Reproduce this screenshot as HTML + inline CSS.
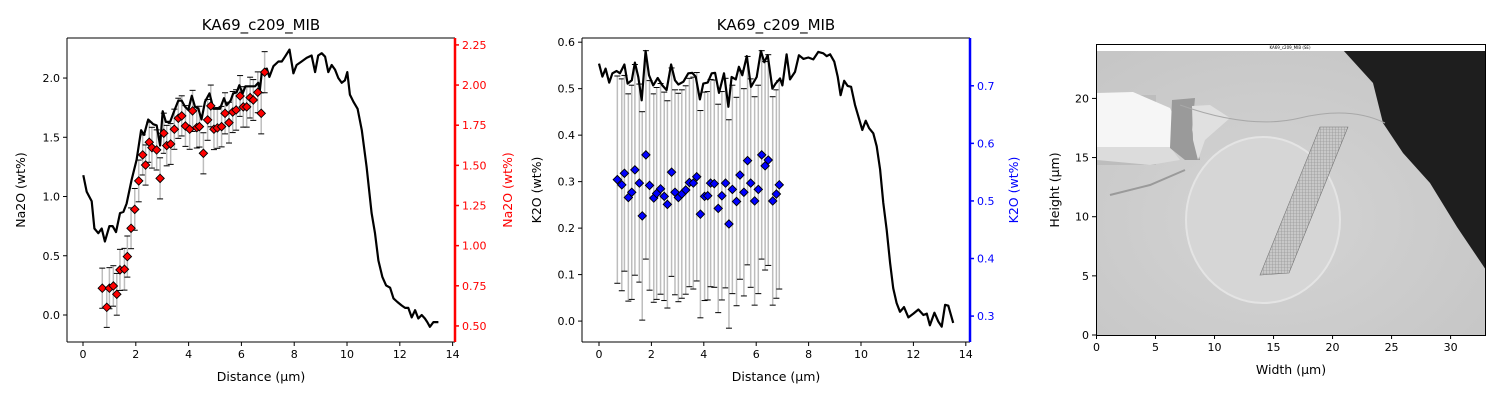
<!DOCTYPE html>
<html><head><meta charset="utf-8">
<style>
html,body{margin:0;padding:0;background:#fff;}
svg{display:block;font-family:"DejaVu Sans","Liberation Sans",sans-serif;}
</style></head>
<body>
<svg id="fig" width="1500" height="400" viewBox="0 0 1500 400" xmlns="http://www.w3.org/2000/svg">
<rect width="1500" height="400" fill="#fff"/>
<g id="p1"></g>
<g id="p2"></g>
<g id="p3">
  <defs>
    <clipPath id="imgclip"><rect x="1096" y="44" width="389" height="291"/></clipPath>
    <radialGradient id="bgGrad" cx="0.45" cy="0.6" r="0.7">
      <stop offset="0" stop-color="#d4d4d4"/><stop offset="1" stop-color="#c6c6c6"/>
    </radialGradient>
    <pattern id="hatch" width="3" height="3" patternUnits="userSpaceOnUse">
      <rect width="3" height="3" fill="#c8c8c8"/><path d="M0 0H3M0 0V3" stroke="#888" stroke-width="0.6"/>
    </pattern>
  </defs>
  <g clip-path="url(#imgclip)">
    <rect x="1096" y="44" width="389" height="291" fill="url(#bgGrad)"/>
    <rect x="1096" y="95" width="60" height="70" fill="#bdbdbd"/>
    <polygon points="1343,50 1373,83 1383,123 1403,153 1430,183 1457,227 1486,270 1486,50" fill="#1e1e1e"/>
    <polygon points="1097,93 1133,92 1170,108 1177,123 1170,147 1097,147" fill="#f6f6f6"/>
    <polygon points="1097,147 1170,147 1180,160 1150,165 1097,160" fill="#dcdcdc"/>
    <polygon points="1172,100 1195,98 1192,130 1200,160 1185,160 1170,148" fill="#9a9a9a"/>
    <polygon points="1192,106 1210,105 1230,118 1205,140 1198,160 1193,140" fill="#e0e0e0"/>
    <path d="M1110,195 L1150,185 L1185,170" stroke="#9a9a9a" stroke-width="2" fill="none"/>
    <ellipse cx="1263" cy="220" rx="77" ry="83" fill="#d6d6d6" stroke="#e4e4e4" stroke-width="2"/>
    <path d="M1180,105 Q1250,130 1300,118 T1385,123" stroke="#a8a8a8" stroke-width="1" fill="none"/>
    <polygon points="1320,127 1348,127 1289,273 1260,275" fill="url(#hatch)" stroke="#777" stroke-width="0.6"/>
  </g>
  <rect x="1096" y="44" width="389" height="7" fill="#fff"/>
  <text x="1290" y="49" font-size="4" text-anchor="middle">KA69_c209_MIB (SE)</text>
  <rect x="1096.5" y="44.5" width="389" height="291" fill="none" stroke="#000" stroke-width="1"/>
</g>
</svg>
<script>
// ---------- Panel 1 data ----------
const naLineX = [0.01,0.14,0.33,0.43,0.58,0.71,0.83,1.00,1.12,1.25,1.40,1.53,1.65,1.84,2.03,2.20,2.31,2.47,2.66,2.79,2.92,3.02,3.14,3.30,3.45,3.61,3.74,3.86,3.99,4.12,4.24,4.37,4.49,4.62,4.79,4.94,5.13,5.19,5.34,5.44,5.59,5.69,5.82,5.92,6.05,6.15,6.26,6.39,6.52,6.64,6.70,6.77,6.86,6.96,7.06,7.21,7.40,7.53,7.65,7.82,7.97,8.09,8.28,8.47,8.66,8.79,8.91,9.04,9.17,9.29,9.42,9.55,9.67,9.80,9.92,10.01,10.11,10.24,10.40,10.56,10.74,10.93,11.06,11.19,11.34,11.48,11.63,11.76,11.91,12.07,12.20,12.32,12.45,12.58,12.70,12.83,12.95,13.04,13.14,13.27,13.46];
const naLineY = [1.18,1.04,0.96,0.73,0.69,0.73,0.62,0.75,0.75,0.70,0.86,0.87,0.94,1.14,1.31,1.56,1.52,1.65,1.61,1.60,1.43,1.72,1.63,1.63,1.72,1.81,1.81,1.76,1.73,1.85,1.76,1.74,1.65,1.80,1.87,1.74,1.74,1.74,1.83,1.77,1.81,1.87,1.88,1.94,1.87,1.93,1.93,1.93,1.93,1.96,1.90,2.04,2.07,2.08,2.01,2.10,2.14,2.14,2.18,2.24,2.04,2.11,2.14,2.17,2.19,2.05,2.19,2.21,2.18,2.05,2.11,2.07,2.00,1.96,1.98,2.05,1.86,1.80,1.74,1.56,1.25,0.86,0.69,0.46,0.32,0.25,0.23,0.14,0.11,0.08,0.06,0.06,-0.02,0.04,-0.03,0.00,-0.03,-0.06,-0.10,-0.06,-0.06];
const naPtX = [0.73,0.90,1.00,1.15,1.28,1.40,1.57,1.68,1.82,1.96,2.11,2.26,2.37,2.51,2.61,2.79,2.92,3.06,3.17,3.32,3.46,3.61,3.74,3.88,4.04,4.15,4.31,4.41,4.56,4.72,4.84,4.96,5.09,5.25,5.38,5.53,5.67,5.80,5.95,6.07,6.20,6.33,6.45,6.62,6.75,6.88];
const naPtY = [0.735,0.616,0.735,0.749,0.697,0.849,0.853,0.932,1.108,1.226,1.403,1.565,1.502,1.644,1.610,1.596,1.419,1.700,1.623,1.633,1.725,1.793,1.808,1.745,1.725,1.839,1.735,1.741,1.575,1.783,1.870,1.725,1.733,1.741,1.824,1.766,1.832,1.845,1.932,1.864,1.864,1.922,1.907,1.955,1.824,2.080];
const naPtErr = [0.125,0.125,0.128,0.126,0.13,0.128,0.13,0.128,0.127,0.13,0.13,0.125,0.125,0.125,0.127,0.125,0.128,0.125,0.126,0.127,0.125,0.125,0.125,0.127,0.125,0.128,0.127,0.127,0.128,0.127,0.13,0.127,0.127,0.126,0.128,0.127,0.128,0.126,0.127,0.126,0.126,0.127,0.127,0.127,0.128,0.128];
const naLeftTicks = [0.0,0.5,1.0,1.5,2.0];
const naRightTicks = [0.50,0.75,1.00,1.25,1.50,1.75,2.00,2.25];
// ---------- Panel 2 data ----------
const kLineX = [0.00,0.13,0.25,0.39,0.51,0.67,0.80,0.97,1.09,1.25,1.37,1.50,1.63,1.78,1.91,2.07,2.24,2.42,2.58,2.75,2.90,3.03,3.22,3.41,3.56,3.69,3.85,3.98,4.15,4.30,4.43,4.58,4.77,4.94,5.06,5.22,5.34,5.47,5.64,5.80,6.02,6.18,6.31,6.44,6.62,6.74,6.91,7.00,7.16,7.29,7.48,7.63,7.80,7.99,8.18,8.37,8.56,8.69,8.82,8.98,9.11,9.22,9.36,9.49,9.62,9.77,9.90,10.05,10.18,10.31,10.47,10.60,10.73,10.85,10.98,11.11,11.23,11.36,11.49,11.64,11.81,12.00,12.19,12.38,12.51,12.63,12.80,12.95,13.08,13.21,13.33,13.52];
const kLineY = [0.554,0.526,0.543,0.513,0.533,0.538,0.533,0.552,0.511,0.518,0.556,0.525,0.475,0.581,0.529,0.507,0.523,0.507,0.497,0.552,0.518,0.509,0.515,0.533,0.534,0.526,0.477,0.511,0.513,0.533,0.534,0.491,0.533,0.461,0.525,0.520,0.547,0.529,0.570,0.504,0.525,0.581,0.557,0.572,0.500,0.511,0.522,0.507,0.574,0.520,0.536,0.572,0.564,0.567,0.563,0.579,0.576,0.570,0.574,0.558,0.526,0.486,0.517,0.506,0.504,0.465,0.440,0.411,0.431,0.415,0.404,0.376,0.326,0.254,0.196,0.125,0.071,0.039,0.020,0.030,0.008,0.016,0.025,0.013,0.016,-0.009,0.018,-0.001,-0.012,0.035,0.033,-0.004];
const kPtX = [0.70,0.87,0.97,1.12,1.25,1.37,1.54,1.65,1.79,1.93,2.09,2.20,2.35,2.49,2.61,2.77,2.90,3.03,3.16,3.31,3.45,3.60,3.73,3.87,4.03,4.15,4.26,4.40,4.55,4.69,4.83,4.96,5.09,5.25,5.38,5.53,5.67,5.79,5.94,6.08,6.21,6.34,6.46,6.63,6.77,6.88];
const kPtY = [0.537,0.528,0.548,0.506,0.515,0.554,0.531,0.474,0.580,0.527,0.505,0.513,0.521,0.508,0.494,0.550,0.515,0.506,0.512,0.519,0.532,0.531,0.542,0.477,0.508,0.509,0.531,0.530,0.487,0.509,0.531,0.460,0.520,0.499,0.545,0.515,0.570,0.531,0.500,0.520,0.580,0.561,0.571,0.500,0.512,0.528];
const kPtErr = [0.180,0.184,0.170,0.180,0.186,0.183,0.172,0.181,0.181,0.182,0.181,0.184,0.183,0.181,0.180,0.181,0.178,0.181,0.181,0.181,0.181,0.184,0.181,0.180,0.181,0.181,0.180,0.180,0.181,0.181,0.182,0.181,0.181,0.181,0.181,0.180,0.181,0.181,0.181,0.181,0.181,0.181,0.183,0.181,0.181,0.181];
const kLeftTicks = [0.0,0.1,0.2,0.3,0.4,0.5,0.6];
const kRightTicks = [0.3,0.4,0.5,0.6,0.7];
const xTicks = [0,2,4,6,8,10,12,14];
// ---------- Panel 3 ----------
const imgXTicks = [0,5,10,15,20,25,30];
const imgYTicks = [0,5,10,15,20];

const NS = "http://www.w3.org/2000/svg";
const TICK_FS = 11, LAB_FS = 12.5, TITLE_FS = 15;
function mk(parent, tag, attrs, text){
  const e = document.createElementNS(NS, tag);
  for (const k in attrs) e.setAttribute(k, attrs[k]);
  if (text !== undefined) e.textContent = text;
  parent.appendChild(e);
  return e;
}
function scale(d0,d1,p0,p1){ return v => p0 + (v-d0)/(d1-d0)*(p1-p0); }

function panel(g, cfg){
  const {L,R,T,B} = cfg;
  const sx = scale(cfg.xlim[0],cfg.xlim[1],L,R);
  const syL = scale(cfg.ylL[0],cfg.ylL[1],B,T);
  const syR = scale(cfg.ylR[0],cfg.ylR[1],B,T);
  const title = mk(g,'text',{x:(L+R)/2,y:T-8,'font-size':TITLE_FS,'text-anchor':'middle'},cfg.title);
  
  
  const eg = mk(g,'g',{});
  
  
  cfg.px.forEach((x,i)=>{
    const X = sx(x), y1 = syR(cfg.py[i]+cfg.pe[i]), y2 = syR(cfg.py[i]-cfg.pe[i]);
    mk(eg,'line',{x1:X,x2:X,y1:y1,y2:y2,stroke:'#bdbdbd','stroke-width':1.5});
    mk(eg,'line',{x1:X-3,x2:X+3,y1:y1,y2:y1,stroke:'#000','stroke-width':1});
    mk(eg,'line',{x1:X-3,x2:X+3,y1:y2,y2:y2,stroke:'#000','stroke-width':1});
  });
  const pts = cfg.lx.map((x,i)=>sx(x).toFixed(1)+','+syL(cfg.ly[i]).toFixed(1)).join(' ');
  const pl = mk(g,'polyline',{points:pts,fill:'none',stroke:'#000','stroke-width':2.2,'stroke-linejoin':'round'});
  
  
  const mg = mk(g,'g',{});
  
  
  cfg.px.forEach((x,i)=>{
    const X = sx(x), Y = syR(cfg.py[i]), r=4.2;
    const d = mk(mg,'polygon',{points:`${X},${Y-r} ${X+r},${Y} ${X},${Y+r} ${X-r},${Y}`,fill:cfg.color,stroke:'#000','stroke-width':0.9});
    
    
  });
  mk(g,'line',{x1:L,x2:L,y1:T,y2:B,stroke:'#000','stroke-width':1});
  mk(g,'line',{x1:L,x2:R,y1:T,y2:T,stroke:'#000','stroke-width':1});
  mk(g,'line',{x1:L,x2:R,y1:B,y2:B,stroke:'#000','stroke-width':1});
  const rs = mk(g,'line',{x1:R,x2:R,y1:T,y2:B,stroke:cfg.axisColor,'stroke-width':2.5});
  
  
  const axc = cfg.axisColor;
  const xg = mk(g,'g',{});
  
  
  xTicks.forEach(t=>{
    const X = sx(t);
    mk(xg,'line',{x1:X,x2:X,y1:B,y2:B+4,stroke:'#000'});
    mk(xg,'text',{x:X,y:B+16,'font-size':TICK_FS,'text-anchor':'middle'},String(t));
  });
  const xl = mk(g,'text',{x:(L+R)/2,y:381,'font-size':LAB_FS,'text-anchor':'middle'},'Distance (µm)');
  
  
  const lg = mk(g,'g',{});
  
  
  cfg.tL.forEach(t=>{
    const Y = syL(t);
    mk(lg,'line',{x1:L-4,x2:L,y1:Y,y2:Y,stroke:'#000'});
    mk(lg,'text',{x:L-7,y:Y+4,'font-size':TICK_FS,'text-anchor':'end'},t.toFixed(1));
  });
  const ll = mk(g,'text',{x:0,y:0,'font-size':LAB_FS,'text-anchor':'middle',transform:`translate(${cfg.lLabX},${(T+B)/2}) rotate(-90)`},cfg.lLab);
  
  
  const rg = mk(g,'g',{});
  
  
  cfg.tR.forEach(t=>{
    const Y = syR(t);
    mk(rg,'line',{x1:R,x2:R+4,y1:Y,y2:Y,stroke:axc,'stroke-width':1.5});
    mk(rg,'text',{x:R+7,y:Y+4,'font-size':TICK_FS,fill:axc},t.toFixed(cfg.rDec));
  });
  const rl = mk(g,'text',{x:0,y:0,'font-size':LAB_FS,'text-anchor':'middle',fill:axc,transform:`translate(${cfg.rLabX},${(T+B)/2}) rotate(-90)`},cfg.rLab);
  
  
}

panel(document.getElementById('p1'),{L:67,R:455,T:38,B:342,title:'KA69_c209_MIB',
  xlim:[-0.606,14.09],ylL:[-0.228,2.338],ylR:[0.40,2.293],
  lx:naLineX,ly:naLineY,px:naPtX,py:naPtY,pe:naPtErr,color:'#ff0000',axisColor:'#ff0000',
  tL:naLeftTicks,tR:naRightTicks,rDec:2,lLab:'Na2O (wt%)',rLab:'Na2O (wt%)',lLabX:25,rLabX:512});
panel(document.getElementById('p2'),{L:582,R:970,T:38,B:342,title:'KA69_c209_MIB',
  xlim:[-0.649,14.16],ylL:[-0.045,0.609],ylR:[0.255,0.783],
  lx:kLineX,ly:kLineY,px:kPtX,py:kPtY,pe:kPtErr,color:'#0000ff',axisColor:'#0000ff',
  tL:kLeftTicks,tR:kRightTicks,rDec:1,lLab:'K2O (wt%)',rLab:'K2O (wt%)',lLabX:541,rLabX:1018});

(function(){
  const g = document.getElementById('p3');
  const sx = scale(0,33,1096.5,1486);
  const sy = scale(0,24.6,335,44);
  const xg = mk(g,'g',{});
  
  
  imgXTicks.forEach(t=>{
    const X = sx(t);
    mk(xg,'line',{x1:X,x2:X,y1:335,y2:339,stroke:'#000'});
    mk(xg,'text',{x:X,y:351,'font-size':TICK_FS,'text-anchor':'middle'},String(t));
  });
  const yg = mk(g,'g',{});
  
  
  imgYTicks.forEach(t=>{
    const Y = sy(t);
    mk(yg,'line',{x1:1092,x2:1096,y1:Y,y2:Y,stroke:'#000'});
    mk(yg,'text',{x:1089,y:Y+4,'font-size':TICK_FS,'text-anchor':'end'},String(t));
  });
  const xl = mk(g,'text',{x:1291,y:374,'font-size':LAB_FS,'text-anchor':'middle'},'Width (µm)');
  
  
  const yl = mk(g,'text',{x:0,y:0,'font-size':LAB_FS,'text-anchor':'middle',transform:'translate(1059,190) rotate(-90)'},'Height (µm)');
  
  
})();
</script>
</body></html>
